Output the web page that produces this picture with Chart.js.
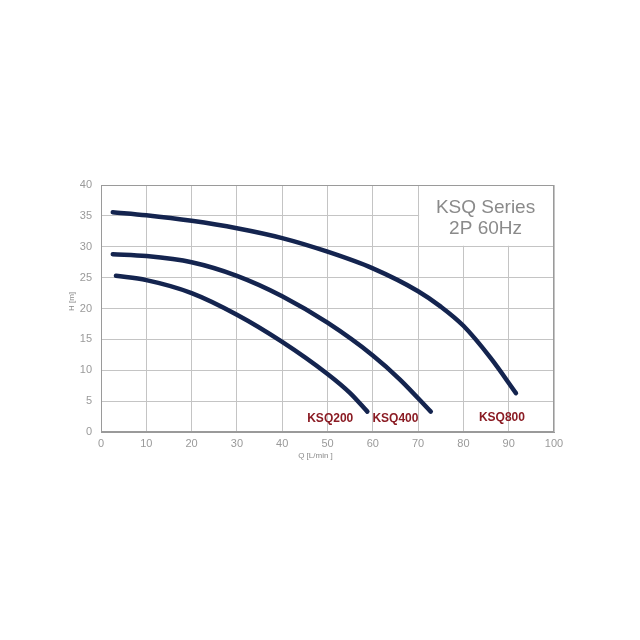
<!DOCTYPE html>
<html>
<head>
<meta charset="utf-8">
<script src="https://cdn.jsdelivr.net/npm/chart.js@4/dist/chart.umd.min.js"></script>
<style>
  html, body { margin: 0; padding: 0; background: #ffffff; }
  #wrap { width: 640px; height: 640px; position: relative; }
</style>
</head>
<body>
<div id="wrap"><canvas id="c" width="640" height="640"></canvas></div>
<script>
// ---- data ----
const xTicks = [0, 10, 20, 30, 40, 50, 60, 70, 80, 90, 100];
const yTicks = [0, 5, 10, 15, 20, 25, 30, 35, 40];

const seriesNames = ["KSQ200", "KSQ400", "KSQ800"];

const q200 = [3.3, 10, 20, 30, 40, 50, 55, 58.8];
const h200 = [25.3, 24.6, 22.5, 19.0, 14.6, 9.4, 6.3, 3.3];

const q400 = [2.6, 10, 20, 30, 40, 50, 60, 66, 72.8];
const h400 = [28.8, 28.5, 27.5, 25.3, 22.0, 17.7, 12.4, 8.5, 3.3];

const q800 = [2.6, 10, 20, 30, 40, 50, 60, 70, 75, 80, 86, 91.6];
const h800 = [35.6, 35.1, 34.2, 33.0, 31.4, 29.2, 26.5, 22.8, 20.3, 17.2, 12.0, 6.3];

const titleLines = ["KSQ Series", "2P 60Hz"];
const xTitle = "Q [L/min ]";
const yTitle = "H [m]";

// label anchors in data units
const labelQ = [50.6, 65, 88.5];
const labelH = [2.1, 2.1, 2.3];

// ---- build ----
function pts(q, h) { return q.map((v, i) => ({ x: v, y: h[i] })); }
const curves = [pts(q200, h200), pts(q400, h400), pts(q800, h800)];

const lineColor = "#14244f";
const gridColor = "#c4c4c4";
const tickColor = "#9a9a9a";
const frameColor = "#9a9a9a";

const overlay = {
  id: "overlay",
  beforeDatasetsDraw(chart) {
    const { ctx, chartArea: ca, scales: { x, y } } = chart;
    ctx.save();
    // white box behind series title (covers grid at top-right)
    ctx.fillStyle = "#ffffff";
    const x0 = x.getPixelForValue(70) + 1;
    const x1 = x.getPixelForValue(100);
    const y0 = y.getPixelForValue(40);
    const y1 = y.getPixelForValue(30) - 1;
    ctx.fillRect(x0, y0, x1 - x0, y1 - y0);
    // frame
    ctx.strokeStyle = frameColor;
    ctx.lineWidth = 1;
    ctx.strokeRect(Math.round(ca.left) + 0.5, Math.round(ca.top) + 0.5,
                   Math.round(ca.right - ca.left) - 1, Math.round(ca.bottom - ca.top) - 1);
    ctx.fillStyle = "#8a8a8a";
    ctx.font = "19px 'Liberation Sans', Arial, sans-serif";
    ctx.textAlign = "center";
    ctx.textBaseline = "middle";
    const cx = (x0 + x1) / 2 - 1;
    ctx.fillText(titleLines[0], cx, y0 + 23);
    ctx.fillText(titleLines[1], cx, y0 + 44);
    ctx.restore();
  },
  afterDatasetsDraw(chart) {
    const { ctx, scales: { x, y } } = chart;
    ctx.save();
    ctx.font = "bold 12px 'Liberation Sans', Arial, sans-serif";
    ctx.textAlign = "center";
    ctx.textBaseline = "middle";
    seriesNames.forEach((n, i) => {
      const px = x.getPixelForValue(labelQ[i]);
      const py = y.getPixelForValue(labelH[i]);
      ctx.fillStyle = "#8b1c24";
      ctx.fillText(n, px, py);
    });
    // axis titles
    ctx.fillStyle = "#8a8a8a";
    ctx.font = "8px 'Liberation Sans', Arial, sans-serif";
    ctx.fillText(xTitle, (x.left + x.right) / 2 - 12, 456);
    ctx.translate(72, (y.top + y.bottom) / 2 - 7);
    ctx.rotate(-Math.PI / 2);
    ctx.fillText(yTitle, 0, 0);
    ctx.restore();
  }
};

new Chart(document.getElementById("c"), {
  type: "scatter",
  data: {
    datasets: curves.map((d, i) => ({
      label: seriesNames[i],
      data: d,
      showLine: true,
      borderColor: lineColor,
      backgroundColor: lineColor,
      borderWidth: 4.5,
      borderCapStyle: "round",
      borderJoinStyle: "round",
      pointRadius: 0,
      cubicInterpolationMode: "monotone",
      fill: false
    }))
  },
  options: {
    responsive: false,
    animation: false,
    devicePixelRatio: 1,
    layout: { padding: { left: 0, top: 185, right: 86, bottom: 0 } },
    plugins: { legend: { display: false }, tooltip: { enabled: false }, title: { display: false } },
    scales: {
      x: {
        type: "linear",
        min: 0, max: 100,
        afterFit(s) { s.height = 208; },
        afterBuildTicks(s) { s.ticks = xTicks.map(v => ({ value: v })); },
        grid: { color: gridColor, lineWidth: 1, drawTicks: false },
        border: { color: frameColor, width: 1 },
        ticks: { color: tickColor, padding: 5, font: { size: 11, family: "'Liberation Sans', Arial, sans-serif" }, maxRotation: 0 }
      },
      y: {
        type: "linear",
        min: 0, max: 40,
        afterFit(s) { s.width = 101; },
        afterBuildTicks(s) { s.ticks = yTicks.map(v => ({ value: v })); },
        grid: { color: gridColor, lineWidth: 1, drawTicks: false },
        border: { color: frameColor, width: 1 },
        ticks: { color: tickColor, padding: 9, font: { size: 11, family: "'Liberation Sans', Arial, sans-serif" } }
      }
    }
  },
  plugins: [overlay]
});
</script>
</body>
</html>
